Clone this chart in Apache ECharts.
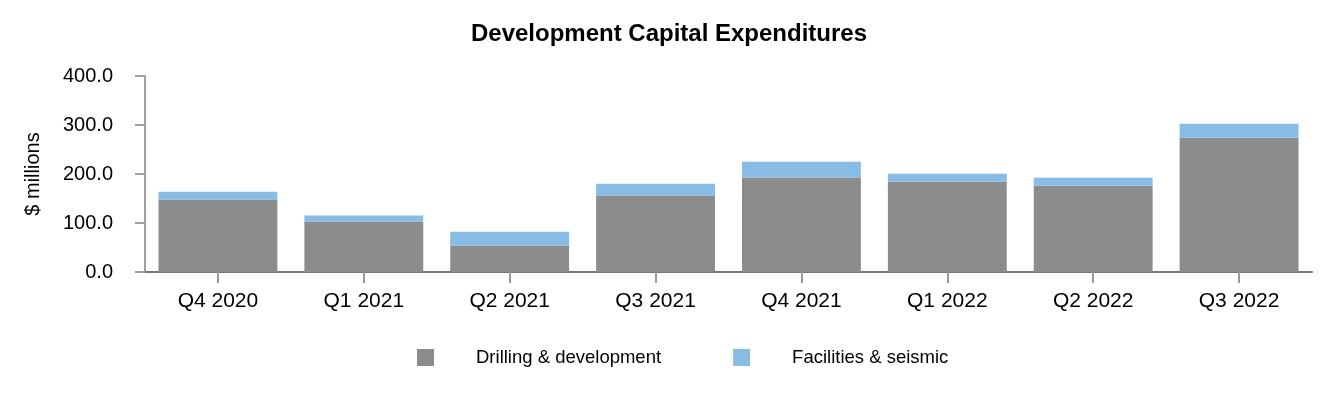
<!DOCTYPE html>
<html>
<head>
<meta charset="utf-8">
<script src="https://cdn.jsdelivr.net/npm/echarts@6/dist/echarts.min.js"></script>
<style>html,body{margin:0;padding:0;background:#fff}#c{width:1332px;height:400px}</style>
</head>
<body>
<div id="c"></div>
<script>
var categories = ["Q4 2020","Q1 2021","Q2 2021","Q3 2021","Q4 2021","Q1 2022","Q2 2022","Q3 2022"];
var drilling = [148.2, 103.3, 54.3, 156.3, 193.1, 184.3, 176.1, 274.1];
var facilities = [15.7, 12.2, 27.9, 23.9, 32.0, 16.3, 16.3, 28.6];
var seriesNames = ["Drilling & development", "Facilities & seismic"];
var yTicks = [0, 100, 200, 300, 400];

var FONT = "Liberation Sans, Arial, sans-serif";
var chart = echarts.init(document.getElementById('c'), null, {renderer:'canvas'});
chart.setOption({
  animation:false,
  title:{text:"Development Capital Expenditures", left:664, textAlign:'center', top:17,
    textStyle:{fontFamily:FONT, fontSize:24, fontWeight:'bold', color:'#000'}},
  grid:{left:145, right:20, top:76, bottom:128},
  legend:{bottom:28, left:412, itemWidth:17, itemHeight:17, itemGap:72, icon:'rect',
    textStyle:{fontFamily:FONT, fontSize:18.5, color:'#000', padding:[0,0,0,37]},
    data:seriesNames},
  xAxis:{type:'category', data:categories,
    axisLine:{lineStyle:{color:'#777', width:2}},
    axisTick:{show:true, length:11, alignWithLabel:true, lineStyle:{color:'#999', width:2}},
    axisLabel:{fontFamily:FONT, fontSize:21, color:'#000', margin:19}},
  yAxis:{type:'value', min:yTicks[0], max:yTicks[yTicks.length-1], interval:100,
    name:"$ millions", nameLocation:'middle', nameRotate:90, nameGap:102,
    nameTextStyle:{fontFamily:FONT, fontSize:20, color:'#000'},
    axisLine:{show:true, lineStyle:{color:'#a0a0a0', width:2}},
    axisTick:{show:true, length:10, lineStyle:{color:'#a0a0a0', width:2}},
    splitLine:{show:false},
    axisLabel:{fontFamily:FONT, fontSize:20, color:'#000', margin:32, padding:[6,0,0,0],
      formatter:function(v){return v.toFixed(1);}}},
  series:[
    {name:seriesNames[0], type:'bar', stack:'a', data:drilling, barCategoryGap:'18.5%',
      itemStyle:{color:'#8C8C8C'}},
    {name:seriesNames[1], type:'bar', stack:'a', data:facilities,
      itemStyle:{color:'#88BCE4'}}
  ]
});
</script>
</body>
</html>
